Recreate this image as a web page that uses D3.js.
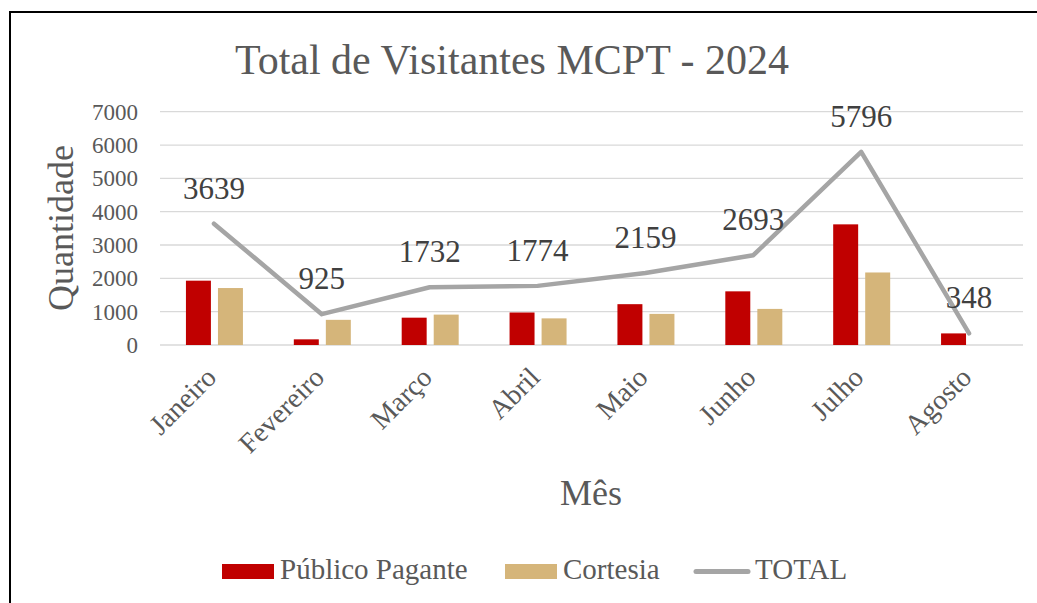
<!DOCTYPE html>
<html><head><meta charset="utf-8">
<script src="https://cdn.jsdelivr.net/npm/d3@7"></script>
<style>
html,body{margin:0;padding:0;background:#fff;}
svg text{font-family:"Liberation Serif","Times New Roman",Tinos,serif !important;}
</style></head>
<body>
<svg id="c" width="1037" height="603"></svg>
<script>
const months = ["Janeiro","Fevereiro","Março","Abril","Maio","Junho","Julho","Agosto"];
const pagante = [1930,170,820,975,1225,1610,3620,348];
const cortesia = [1709,755,912,799,934,1083,2176,0];
const total = [3639,925,1732,1774,2159,2693,5796,348];
const yTicks = [0,1000,2000,3000,4000,5000,6000,7000];
const seriesNames = ["Público Pagante","Cortesia","TOTAL"];
const colors = {pag:"#C00000", cor:"#D5B57A", tot:"#A5A5A5"};
const FONT = "'Liberation Serif','Times New Roman',Tinos,serif";

const svg = d3.select("#c");
svg.append("rect").attr("x",10).attr("y",12).attr("width",1040).attr("height",600)
  .attr("fill","#fff").attr("stroke","#000").attr("stroke-width",2);

const x = d3.scaleBand().domain(months).range([160,1023]);
const y = d3.scaleLinear().domain([0,7000]).range([345,111.7]);
const sub = d3.scaleBand().domain(["pag","cor"]).range([x.bandwidth()/2-28, x.bandwidth()/2+29]).paddingInner(0.22);

// gridlines
svg.append("g").selectAll("line").data(yTicks).join("line")
  .attr("x1",160).attr("x2",1023)
  .attr("y1",d=>y(d)).attr("y2",d=>y(d))
  .attr("stroke","#D9D9D9").attr("stroke-width",1.3);

// y axis
const yAxis = d3.axisLeft(y).tickValues(yTicks).tickSize(0).tickPadding(0).tickFormat(d3.format("d"));
const gy = svg.append("g").attr("transform","translate(138,0)").call(yAxis).attr("font-family",FONT);
gy.select(".domain").remove();
gy.selectAll("text").attr("font-family",FONT).attr("font-size",23).attr("fill","#595959").attr("dy","0.33em");

// bars
const gBars = svg.append("g");
gBars.selectAll("rect.p").data(months).join("rect")
  .attr("x",(d)=>x(d)+sub("pag")).attr("width",sub.bandwidth())
  .attr("y",(d,i)=>y(pagante[i])).attr("height",(d,i)=>y(0)-y(pagante[i]))
  .attr("fill",colors.pag);
gBars.selectAll("rect.c").data(months.filter((d,i)=>cortesia[i]>0)).join("rect")
  .attr("x",(d)=>x(d)+sub("cor")).attr("width",sub.bandwidth())
  .attr("y",(d)=>y(cortesia[months.indexOf(d)])).attr("height",(d)=>y(0)-y(cortesia[months.indexOf(d)]))
  .attr("fill",colors.cor);

// line
const line = d3.line().x((d,i)=>x(months[i])+x.bandwidth()/2).y(d=>y(d));
svg.append("path").datum(total).attr("d",line)
  .attr("fill","none").attr("stroke",colors.tot).attr("stroke-width",4.5)
  .attr("stroke-linejoin","round").attr("stroke-linecap","round");

// data labels
svg.append("g").selectAll("text").data(total).join("text")
  .attr("x",(d,i)=>x(months[i])+x.bandwidth()/2)
  .attr("y",d=>y(d)-25)
  .attr("text-anchor","middle").attr("font-size",31).attr("fill","#404040")
  .text(d=>d);

// x labels
const xAxis = d3.axisBottom(x).tickSize(0).tickPadding(0);
const gx = svg.append("g").attr("transform","translate(0,345)").call(xAxis).attr("font-family",FONT);
gx.select(".domain").remove();
gx.selectAll("text").attr("font-family",FONT).attr("font-size",28).attr("fill","#595959")
  .attr("text-anchor","end").attr("dy",null).attr("y",null)
  .attr("transform","translate(4,34) rotate(-45)");

// titles
svg.append("text").attr("x",512).attr("y",74).attr("text-anchor","middle")
  .attr("font-size",42).attr("fill","#595959").text("Total de Visitantes MCPT - 2024");
svg.append("text").attr("transform","translate(73,228) rotate(-90)").attr("text-anchor","middle")
  .attr("font-size",36).attr("fill","#595959").text("Quantidade");
svg.append("text").attr("x",591).attr("y",505).attr("text-anchor","middle")
  .attr("font-size",36).attr("fill","#595959").text("Mês");

// legend
const leg = svg.append("g");
const legItems = [
  {name:seriesNames[0], type:"rect", color:colors.pag, sx:222, tx:280},
  {name:seriesNames[1], type:"rect", color:colors.cor, sx:505, tx:563},
  {name:seriesNames[2], type:"line", color:colors.tot, sx:694, tx:755}
];
legItems.forEach(it=>{
  if(it.type==="rect"){
    leg.append("rect").attr("x",it.sx).attr("y",564).attr("width",52).attr("height",15).attr("fill",it.color);
  } else {
    leg.append("line").attr("x1",it.sx+2).attr("x2",it.sx+54).attr("y1",571.5).attr("y2",571.5)
      .attr("stroke",it.color).attr("stroke-width",5).attr("stroke-linecap","round");
  }
  leg.append("text").attr("x",it.tx).attr("y",579).attr("font-size",29).attr("fill","#595959").text(it.name);
});
</script>
</body></html>
